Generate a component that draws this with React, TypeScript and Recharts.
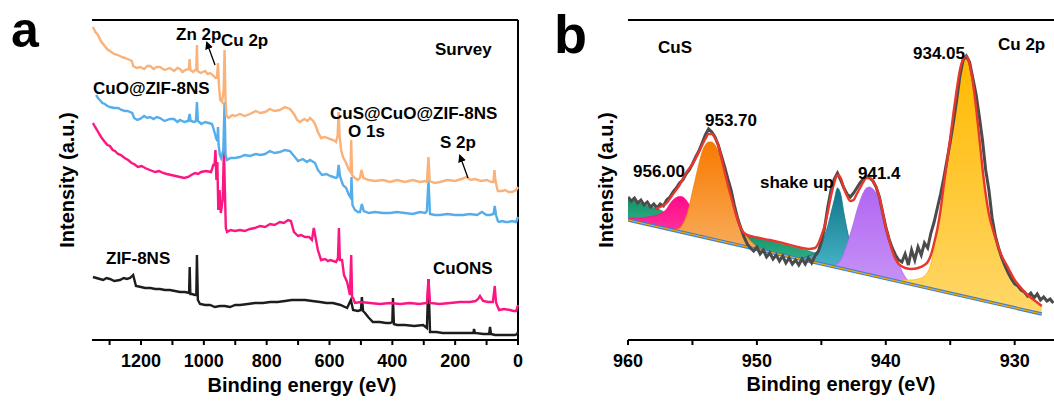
import React from "react";
import { LineChart, ComposedChart, Line, Area, XAxis, YAxis, ReferenceLine } from "recharts";

const FONT = '"Liberation Sans", Arial, Helvetica, sans-serif';

// ---- panel a: survey spectra, [binding energy (eV), intensity (a.u.)]
const surveyCuSCuO = [
  [1353, 313], [1345, 308], [1337, 305], [1328, 299], [1318, 295], [1308, 291], [1299, 289], [1286, 286],
  [1273, 285], [1262, 283], [1251, 282], [1243, 281], [1235, 280], [1229, 279], [1225, 274], [1214, 272],
  [1203, 273], [1190, 271], [1180, 274], [1171, 274], [1160, 271], [1150, 273], [1140, 273], [1125, 270],
  [1108, 272], [1095, 269], [1084, 272], [1076, 271], [1068, 268], [1060, 270], [1048, 271], [1045, 281],
  [1043, 270], [1034, 268], [1028, 270], [1024, 270], [1022, 295], [1020, 269], [1010, 267], [996, 269],
  [988, 266], [980, 267], [968, 264], [963, 262], [958, 263], [955, 277], [952, 255], [948, 240],
  [942, 238], [937, 250], [934, 290], [931, 240], [928, 224], [921, 222], [910, 225], [901, 224],
  [885, 226], [870, 224], [853, 226], [835, 229], [820, 227], [805, 228], [790, 231], [775, 229],
  [758, 230], [742, 233], [726, 231], [713, 226], [703, 220], [694, 218], [680, 221], [670, 219],
  [662, 222], [652, 219], [646, 216], [637, 208], [627, 202], [615, 203], [598, 201], [588, 200],
  [579, 198], [574, 205], [571, 228], [568, 204], [563, 190], [557, 183], [547, 177], [538, 170],
  [533, 168], [531, 200], [528, 165], [519, 162], [510, 160], [503, 162], [498, 170], [492, 162],
  [475, 160], [455, 159], [430, 160], [407, 158], [385, 160], [360, 158], [335, 160], [312, 158],
  [295, 159], [290, 158], [285, 183], [281, 159], [265, 157], [248, 158], [225, 160], [200, 159],
  [180, 161], [165, 163], [150, 160], [137, 161], [118, 159], [99, 160], [85, 158], [78, 158],
  [75, 170], [72, 160], [66, 151], [64, 149], [50, 149], [41, 150], [30, 148], [19, 148], [6, 150], [0, 153],
];

const surveyCuOZIF = [
  [1343, 245], [1337, 242], [1331, 240], [1323, 237], [1315, 236], [1307, 234], [1299, 233], [1286, 232],
  [1273, 232], [1262, 230], [1251, 229], [1243, 229], [1235, 228], [1228, 227], [1222, 222], [1212, 220],
  [1203, 221], [1190, 224], [1180, 222], [1171, 223], [1160, 221], [1150, 223], [1140, 222], [1125, 219],
  [1108, 221], [1095, 221], [1084, 218], [1076, 220], [1062, 218], [1050, 219], [1045, 226], [1042, 219],
  [1030, 218], [1025, 219], [1022, 238], [1019, 219], [1008, 216], [996, 218], [985, 217], [974, 216],
  [968, 210], [961, 202], [957, 199], [955, 213], [953, 195], [949, 185], [945, 182], [938, 190],
  [934, 238], [931, 185], [926, 180], [915, 182], [901, 182], [885, 183], [870, 185], [853, 184],
  [835, 186], [820, 185], [805, 186], [790, 189], [775, 187], [758, 188], [742, 190], [726, 189],
  [713, 184], [700, 179], [685, 181], [672, 178], [662, 180], [646, 177], [637, 170], [624, 165],
  [610, 166], [598, 164], [588, 163], [579, 162], [575, 163], [571, 175], [566, 163], [557, 155],
  [547, 152], [538, 145], [532, 142], [530, 163], [527, 135], [519, 130], [510, 128], [503, 128],
  [497, 136], [491, 129], [475, 127], [455, 128], [430, 127], [407, 127], [385, 128], [360, 127],
  [335, 126], [312, 128], [295, 127], [290, 129], [285, 160], [280, 126], [265, 125], [248, 125],
  [225, 126], [200, 125], [175, 125], [153, 126], [130, 125], [115, 128], [100, 125], [89, 125],
  [78, 126], [74, 134], [70, 125], [64, 119], [60, 118], [50, 119], [41, 118], [30, 118], [19, 119], [6, 118], [0, 123],
];

const surveyCuONS = [
  [1353, 217], [1346, 213], [1340, 210], [1333, 206], [1327, 203], [1320, 200], [1315, 198], [1307, 195],
  [1299, 194], [1290, 190], [1283, 189], [1273, 186], [1264, 185], [1252, 182], [1241, 180], [1230, 177],
  [1222, 176], [1210, 173], [1198, 174], [1187, 172], [1172, 170], [1155, 168], [1142, 169], [1130, 167],
  [1118, 166], [1104, 165], [1090, 164], [1076, 163], [1062, 162], [1050, 163], [1040, 165], [1028, 167],
  [1018, 166], [1009, 168], [993, 169], [977, 168], [970, 175], [966, 175], [963, 190], [960, 160],
  [957, 178], [954, 130], [950, 150], [946, 127], [940, 140], [936, 192], [933, 150], [930, 112],
  [926, 108], [915, 110], [901, 109], [885, 110], [870, 109], [853, 111], [838, 112], [821, 114],
  [805, 113], [789, 116], [775, 115], [758, 118], [745, 117], [732, 120], [723, 119], [713, 108],
  [700, 104], [690, 105], [678, 103], [665, 103], [656, 100], [650, 112], [643, 100], [637, 90],
  [627, 80], [614, 81], [605, 79], [598, 80], [588, 79], [579, 78], [573, 82], [570, 112],
  [567, 80], [560, 80], [554, 65], [544, 58], [535, 45], [531, 85], [528, 43], [525, 42], [519, 37],
  [500, 38], [471, 37], [440, 36], [407, 37], [375, 36], [344, 37], [315, 36], [290, 37], [285, 61],
  [280, 37], [250, 36], [216, 37], [185, 38], [153, 38], [135, 39], [127, 41], [121, 44], [111, 39],
  [95, 38], [80, 38], [74, 54], [70, 38], [67, 35], [60, 30], [45, 31], [25, 30], [15, 29], [6, 29], [0, 35],
];

const surveyZIF = [
  [1353, 63], [1342, 62], [1331, 61], [1320, 60], [1310, 62], [1299, 61], [1285, 59], [1267, 60],
  [1255, 62], [1245, 61], [1235, 62], [1225, 65], [1216, 54], [1200, 53], [1187, 52], [1170, 52],
  [1155, 51], [1140, 51], [1124, 50], [1108, 50], [1092, 49], [1076, 48], [1060, 48], [1047, 47],
  [1045, 73], [1043, 46], [1038, 46], [1028, 45], [1024, 45], [1022, 85], [1019, 40], [1012, 36],
  [996, 35], [980, 35], [965, 33], [949, 34], [933, 34], [917, 33], [900, 35], [885, 35],
  [860, 36], [837, 37], [812, 37], [789, 38], [765, 38], [742, 39], [720, 40], [703, 40],
  [678, 40], [655, 39], [630, 38], [610, 37], [589, 37], [565, 35], [544, 32], [532, 40],
  [525, 30], [510, 29], [500, 30], [497, 43], [493, 29], [487, 27], [477, 23], [462, 18],
  [440, 18], [420, 17], [407, 17], [400, 18], [398, 42], [395, 16], [385, 15], [360, 15],
  [330, 14], [302, 15], [290, 12], [285, 61], [280, 8], [260, 8], [240, 7], [216, 7],
  [190, 7], [160, 7], [142, 7], [140, 11], [137, 7], [110, 6], [92, 6], [89, 13], [86, 6],
  [73, 5], [50, 5], [25, 5], [10, 5], [3, 6], [0, 8],
];

const surveyTicks = [0, 100, 200, 300, 400, 500, 600, 700, 800, 900, 1000, 1100, 1200, 1300];

// ---- panel b: Cu 2p high resolution
const cu2pRaw = [
  [960, 143], [959.75, 139], [959.5, 142], [959.25, 137], [959, 140], [958.75, 135], [958.5, 138], [958.25, 133],
  [958, 136], [957.75, 132], [957.5, 136], [957.25, 134], [957, 140], [956.75, 143], [956.5, 148], [956.25, 152],
  [956, 157], [955.75, 160], [955.5, 166], [955.25, 170], [955, 176], [954.75, 183], [954.5, 189], [954.25, 197],
  [954, 205], [953.75, 211], [953.5, 208], [953.25, 203], [953, 195], [952.75, 184], [952.5, 173], [952.25, 161],
  [952, 150], [951.75, 135], [951.5, 122], [951.25, 112], [951, 103], [950.75, 96], [950.5, 92], [950.25, 89],
  [950, 93], [949.75, 86], [949.5, 90], [949.25, 83], [949, 87], [948.75, 81], [948.5, 85], [948.25, 79],
  [948, 84], [947.75, 77], [947.5, 82], [947.25, 76], [947, 80], [946.75, 75], [946.5, 81], [946.25, 76],
  [946, 82], [945.75, 77], [945.5, 84], [945.25, 88], [945, 98], [944.75, 112], [944.5, 133], [944.25, 150],
  [944, 161], [943.75, 167], [943.5, 160], [943.25, 152], [943, 146], [942.75, 143], [942.5, 147], [942.25, 152],
  [942, 157], [941.75, 161], [941.5, 164], [941.25, 162], [941, 159], [940.75, 153], [940.5, 143], [940.25, 128],
  [940, 113], [939.75, 101], [939.5, 92], [939.25, 85], [939, 80], [938.75, 78], [938.5, 86], [938.25, 75],
  [938, 90], [937.75, 80], [937.5, 93], [937.25, 85], [937, 97], [936.75, 92], [936.5, 107], [936.25, 118],
  [936, 132], [935.75, 146], [935.5, 162], [935.25, 180], [935, 198], [934.75, 218], [934.5, 240], [934.25, 264],
  [934, 280], [933.75, 284], [933.5, 278], [933.25, 262], [933, 246], [932.75, 224], [932.5, 200], [932.25, 170],
  [932, 150], [931.75, 122], [931.5, 104], [931.25, 92], [931, 82], [930.75, 74], [930.5, 67], [930.25, 61],
  [930, 56], [929.75, 54], [929.5, 50], [929.25, 48], [929, 44], [928.75, 47], [928.5, 42], [928.25, 46],
  [928, 40], [927.75, 43], [927.5, 39], [927.25, 41], [927, 37],
];

const cu2pFit = [
  [957.9, 131], [957.5, 133], [957, 137], [956.5, 146], [956, 155], [955.5, 167], [955, 176], [954.5, 188],
  [954, 201], [953.75, 206], [953.5, 206], [953.25, 202], [953, 195], [952.75, 182], [952.5, 168], [952.25, 155],
  [952, 143], [951.75, 131], [951.5, 120], [951.25, 112], [951, 107], [950.5, 104], [950, 102.5], [949, 100],
  [948, 97], [947, 93.5], [946.5, 92], [946, 91], [945.5, 92], [945.25, 96], [945, 104], [944.75, 114],
  [944.5, 128], [944.25, 144], [944, 157], [943.75, 165], [943.5, 162], [943.25, 152], [943, 144], [942.75, 139],
  [942.5, 140], [942.25, 146], [942, 152], [941.75, 158], [941.5, 162], [941.25, 162], [941, 159], [940.75, 153],
  [940.5, 143], [940.25, 128], [940, 113], [939.75, 101], [939.5, 89], [939.25, 81], [939, 76], [938.5, 72],
  [938, 71], [937.5, 72], [937, 75], [936.75, 78], [936.5, 85], [936.25, 97], [936, 111], [935.75, 130],
  [935.5, 155], [935.25, 178], [935, 202], [934.75, 227], [934.5, 250], [934.25, 270], [934, 281], [933.75, 284],
  [933.5, 276], [933.25, 258], [933, 233], [932.75, 203], [932.5, 172], [932.25, 146], [932, 126], [931.75, 113],
  [931.5, 102], [931, 84], [930.5, 72], [930, 60], [929.5, 52], [929, 45], [928.5, 40], [928, 35], [927.9, 34],
];

const cu2pBackground = [[960, 120], [927.9, 26]];

// fitted components: [eV, background, envelope of component]
const peakSatLeft = [
  [960, 120, 141], [959.5, 118.5, 139], [959, 117, 137], [958.5, 115.5, 134.5], [958, 114, 132.5],
  [957.5, 112.5, 130], [957, 111, 126], [956.5, 110, 120], [956, 108.3, 112], [955.5, 106.8, 107],
];
const peakSatBroad = [
  [952, 96.6, 109], [951.5, 95.1, 108], [951, 93.6, 106.5], [950.5, 92.2, 104.5], [950, 90.7, 102.5],
  [949.5, 89.3, 100.5], [949, 87.8, 99], [948.5, 86.3, 97], [948, 84.9, 95.5], [947.5, 83.4, 94],
  [947, 81.9, 92], [946.5, 80.5, 90.5], [946, 79, 89], [945.5, 77.5, 87], [945, 76.1, 85.5],
  [944.5, 74.6, 82.5], [944, 73.2, 80], [943.5, 71.7, 77], [943, 70.2, 74], [942.5, 68.8, 71], [942, 67.3, 68],
];
const peak956 = [
  [960, 120, 122], [959.5, 118.5, 122], [959, 117, 122], [958.5, 115.6, 123], [958, 114.1, 124],
  [957.5, 112.7, 126], [957, 111.2, 131], [956.75, 110.5, 136], [956.5, 109.8, 140], [956.25, 109, 142.5],
  [956, 108.3, 143.5], [955.75, 107.5, 143], [955.5, 106.8, 140], [955.25, 106, 135], [955, 105.4, 128],
  [954.5, 103.9, 118], [954, 102.4, 110], [953.5, 101, 104], [953, 99.5, 100],
];
const peak953 = [
  [956.5, 109.8, 110.5], [956, 108.3, 112], [955.75, 107.5, 116], [955.5, 106.8, 123], [955.25, 106, 134],
  [955, 105.4, 148], [954.75, 104.7, 162], [954.5, 103.9, 176], [954.25, 103.2, 188], [954, 102.4, 195],
  [953.75, 101.7, 198], [953.5, 101, 198], [953.25, 100.2, 195], [953, 99.5, 189], [952.75, 98.8, 180],
  [952.5, 98, 168], [952.25, 97.3, 155], [952, 96.6, 143], [951.75, 95.8, 133], [951.5, 95.1, 122],
  [951.25, 94.3, 114], [951, 93.6, 108], [950.75, 92.9, 103], [950.5, 92.2, 99], [950.25, 91.4, 96],
  [950, 90.7, 93], [949.5, 89.3, 90.5], [949, 87.8, 88],
];
const peakShake = [
  [946.5, 80.5, 82], [946, 79, 84], [945.5, 77.5, 87], [945.25, 76.8, 90], [945, 76.1, 95],
  [944.75, 75.4, 104], [944.5, 74.6, 114], [944.25, 73.9, 127], [944, 73.2, 140], [943.75, 72.4, 152],
  [943.5, 71.7, 146], [943.25, 71, 127], [943, 70.2, 110], [942.75, 69.5, 96], [942.5, 68.8, 86],
  [942.25, 68, 78], [942, 67.3, 73], [941.5, 65.8, 68],
];
const peak941 = [
  [944, 73.2, 74], [943.5, 71.7, 80], [943, 70.2, 96], [942.75, 69.5, 106], [942.5, 68.8, 117],
  [942.25, 68, 129], [942, 67.3, 139], [941.75, 66.6, 147], [941.5, 65.8, 152], [941.25, 65.1, 153],
  [941, 64.4, 151], [940.75, 63.6, 147], [940.5, 62.9, 139], [940.25, 62.2, 128], [940, 61.4, 115],
  [939.75, 60.7, 104], [939.5, 60, 93], [939.25, 59.2, 83], [939, 58.5, 76], [938.75, 57.8, 69],
  [938.5, 57.1, 63], [938, 55.6, 57], [937.5, 54.1, 54.5],
];
const peak934 = [
  [939.5, 60, 60.5], [939, 58.5, 60], [938.5, 57.1, 60], [938, 55.6, 60], [937.5, 54.1, 61],
  [937, 52.7, 64], [936.75, 52, 68], [936.5, 51.2, 76], [936.25, 50.5, 92], [936, 49.7, 108],
  [935.75, 49, 128], [935.5, 48.3, 153], [935.25, 47.5, 176], [935, 46.8, 201], [934.75, 46.1, 225],
  [934.5, 45.4, 248], [934.25, 44.6, 268], [934, 43.9, 279], [933.75, 43.2, 282], [933.5, 42.4, 275],
  [933.25, 41.7, 257], [933, 41, 232], [932.75, 40.2, 201], [932.5, 39.5, 171], [932.25, 38.8, 145],
  [932, 38, 125], [931.75, 37.3, 112], [931.5, 36.6, 101], [931, 35.1, 83], [930.5, 33.6, 71],
  [930, 32.2, 60], [929.5, 30.7, 51], [929, 29.3, 44], [928.5, 27.8, 39], [928, 26.3, 34], [927.9, 26, 33],
];

const cuTicks = [930, 935, 940, 945, 950, 955, 960];

const pts = (a: number[][]) => a.map(([e, i]) => ({ e, i }));
const rng = (a: number[][]) => a.map(([e, lo, hi]) => ({ e, r: [lo, hi] }));

const peaks = [
  { id: "gSatL", data: peakSatLeft, top: "#12916a", bottom: "#3dbb8c" },
  { id: "gSatB", data: peakSatBroad, top: "#12916a", bottom: "#3dbb8c" },
  { id: "g956", data: peak956, top: "#ff0a8a", bottom: "#ff3aa0" },
  { id: "g953", data: peak953, top: "#f77a00", bottom: "#f9ad5e" },
  { id: "gShake", data: peakShake, top: "#107489", bottom: "#4bb7ca" },
  { id: "g941", data: peak941, top: "#b166f2", bottom: "#c793f6" },
  { id: "g934", data: peak934, top: "#ffb900", bottom: "#ffd86a" },
];

function AxisTick(props: any) {
  const { x, y, payload, step } = props;
  const major = Math.round(payload.value) % step === 0;
  return (
    <g>
      <line x1={x} x2={x} y1={y} y2={y + 5} stroke="#000" strokeWidth={2} />
      {major && (
        <text x={x} y={y + 26.5} textAnchor="middle" fontSize={18} fontWeight="bold" fontFamily={FONT} fill="#000">
          {payload.value}
        </text>
      )}
    </g>
  );
}

const axisLine = { stroke: "#000", strokeWidth: 2 };

function SurveyPanel() {
  const series = [
    { d: surveyZIF, c: "#1d1d1d" },
    { d: surveyCuONS, c: "#fb1682" },
    { d: surveyCuOZIF, c: "#55aeea" },
    { d: surveyCuSCuO, c: "#f8b27a" },
  ];
  return (
    <LineChart width={530} height={401} margin={{ top: 20, right: 12, bottom: 31, left: 92 }}>
      <XAxis
        dataKey="e"
        type="number"
        domain={[0, 1356]}
        reversed
        ticks={surveyTicks}
        interval={0}
        height={30}
        tickSize={0}
        tickMargin={0}
        tickLine={false}
        axisLine={axisLine}
        tick={(p: any) => <AxisTick {...p} step={200} />}
      />
      <YAxis type="number" domain={[0, 320]} width={0} tick={false} tickLine={false} axisLine={axisLine} />
      <ReferenceLine y={320} stroke="#000" strokeWidth={2} />
      <ReferenceLine x={0} stroke="#000" strokeWidth={2} />
      {series.map((s, k) => (
        <Line
          key={k}
          data={pts(s.d)}
          dataKey="i"
          type="linear"
          stroke={s.c}
          strokeWidth={2.4}
          dot={false}
          activeDot={false}
          isAnimationActive={false}
        />
      ))}
    </LineChart>
  );
}

function Cu2pPanel() {
  return (
    <ComposedChart width={524} height={401} margin={{ top: 20, right: 0, bottom: 31, left: 98 }}>
      <defs>
        {peaks.map((p) => (
          <linearGradient key={p.id} id={p.id} x1="0" y1="0" x2="0" y2="1">
            <stop offset="0%" stopColor={p.top} />
            <stop offset="100%" stopColor={p.bottom} />
          </linearGradient>
        ))}
      </defs>
      <XAxis
        dataKey="e"
        type="number"
        domain={[926.95, 960]}
        reversed
        ticks={cuTicks}
        interval={0}
        height={30}
        tickSize={0}
        tickMargin={0}
        tickLine={false}
        axisLine={axisLine}
        allowDataOverflow
        tick={(p: any) => <AxisTick {...p} step={10} />}
      />
      <YAxis type="number" domain={[0, 320]} width={0} tick={false} tickLine={false} axisLine={axisLine} />
      <ReferenceLine y={320} stroke="#000" strokeWidth={2} />
      {peaks.map((p) => (
        <Area
          key={p.id}
          data={rng(p.data)}
          dataKey="r"
          type="monotone"
          fill={`url(#${p.id})`}
          fillOpacity={1}
          stroke={p.top}
          strokeWidth={0.8}
          dot={false}
          activeDot={false}
          isAnimationActive={false}
        />
      ))}
      <Line data={pts(cu2pBackground)} dataKey="i" stroke="#3f7fd6" strokeWidth={3.4} dot={false} activeDot={false} isAnimationActive={false} />
      <Line data={pts(cu2pBackground)} dataKey="i" stroke="#f2ad00" strokeWidth={1.2} dot={false} activeDot={false} isAnimationActive={false} />
      <Line data={pts(cu2pRaw)} dataKey="i" type="linear" stroke="#4b4b4b" strokeWidth={3} dot={false} activeDot={false} isAnimationActive={false} />
      <Line data={pts(cu2pFit)} dataKey="i" type="monotone" stroke="#e8372d" strokeWidth={2.4} dot={false} activeDot={false} isAnimationActive={false} />
    </ComposedChart>
  );
}

const T = (p: { x: number; y: number; children: React.ReactNode; size?: number; anchor?: string }) => (
  <text x={p.x} y={p.y} fontSize={p.size ?? 17} fontWeight="bold" fontFamily={FONT} fill="#000" textAnchor={p.anchor ?? "start"}>
    {p.children}
  </text>
);

export default function App() {
  return (
    <div style={{ position: "fixed", left: 0, top: 0, width: 1054, height: 401, background: "#fff", overflow: "hidden" }}>
      <div style={{ position: "absolute", left: 0, top: 0 }}>
        <SurveyPanel />
      </div>
      <div style={{ position: "absolute", left: 530, top: 0 }}>
        <Cu2pPanel />
      </div>
      <svg width={1054} height={401} style={{ position: "absolute", left: 0, top: 0, pointerEvents: "none" }}>
        <defs>
          <marker id="arr" markerWidth="8" markerHeight="8" refX="6" refY="4" orient="auto" markerUnits="userSpaceOnUse">
            <path d="M0,0 L8,4 L0,8 z" fill="#000" />
          </marker>
        </defs>
        <T x={11} y={47} size={50}>a</T>
        <T x={554} y={53} size={54}>b</T>

        <T x={176} y={40}>Zn 2p</T>
        <T x={221} y={46}>Cu 2p</T>
        <T x={435} y={55}>Survey</T>
        <T x={93} y={94}>CuO@ZIF-8NS</T>
        <T x={330} y={119}>CuS@CuO@ZIF-8NS</T>
        <T x={348} y={137}>O 1s</T>
        <T x={440} y={148}>S 2p</T>
        <T x={106} y={264}>ZIF-8NS</T>
        <T x={433} y={274}>CuONS</T>
        <line x1={215} y1={65} x2={207} y2={43} stroke="#000" strokeWidth={1.3} markerEnd="url(#arr)" />
        <line x1={468} y1={178} x2={460} y2={156} stroke="#000" strokeWidth={1.3} markerEnd="url(#arr)" />

        <T x={658} y={53}>CuS</T>
        <T x={998} y={50}>Cu 2p</T>
        <T x={913} y={59}>934.05</T>
        <T x={705} y={126}>953.70</T>
        <T x={633} y={177}>956.00</T>
        <T x={760} y={188}>shake up</T>
        <T x={858} y={179}>941.4</T>

        <T x={302} y={392} size={20} anchor="middle">Binding energy (eV)</T>
        <T x={841} y={391} size={20} anchor="middle">Binding energy (eV)</T>
        <g transform="translate(74,180) rotate(-90)">
          <T x={0} y={0} size={20} anchor="middle">Intensity (a.u.)</T>
        </g>
        <g transform="translate(613,180) rotate(-90)">
          <T x={0} y={0} size={20} anchor="middle">Intensity (a.u.)</T>
        </g>
      </svg>
    </div>
  );
}
